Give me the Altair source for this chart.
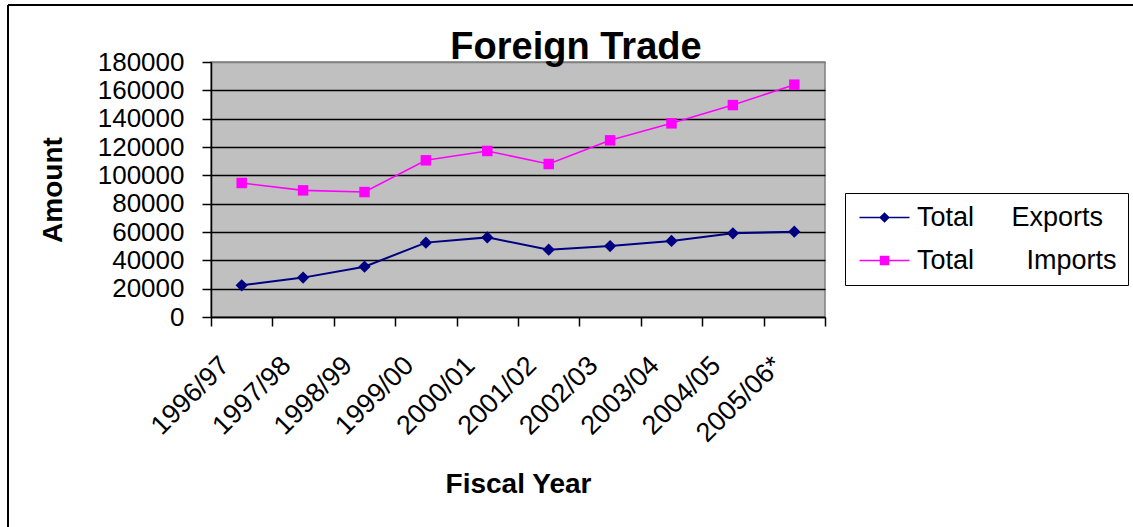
import altair as alt
import pandas as pd

# ---------------- data ----------------
years = ["1996/97", "1997/98", "1998/99", "1999/00", "2000/01",
         "2001/02", "2002/03", "2003/04", "2004/05", "2005/06*"]
exports = [22400, 27800, 35500, 52500, 56200, 47500, 50100, 53700, 59100, 60200]
imports = [94600, 89400, 88200, 110600, 117200, 108000, 124700, 136700, 149600, 164000]
series_names = ["Total" + "\u00a0" * 5 + "Exports", "Total" + "\u00a0" * 7 + "Imports"]
series_colors = ["#000080", "#FF00FF"]
y_ticks = [0, 20000, 40000, 60000, 80000, 100000, 120000, 140000, 160000, 180000]
chart_title = ["Foreign Trade"]

df = pd.DataFrame({
    "year": years * 2,
    "value": exports + imports,
    "series": [series_names[0]] * len(years) + [series_names[1]] * len(years),
})

FONT = "Liberation Sans"

x_enc = alt.X(
    "year:N", sort=years, bandPosition=0.5,
    scale=alt.Scale(type="band", paddingInner=0, paddingOuter=0),
    axis=alt.Axis(
        title="Fiscal Year", titleFont=FONT, titleFontSize=28, titleFontWeight="bold",
        titleColor="black", titleY=175, titleBaseline="alphabetic",
        labelFont=FONT, labelFontSize=27, labelColor="black",
        labelAngle=-45, labelAlign="right", labelBaseline="middle",
        labelPadding=35, labelOffset=-17, labelOverlap=False, labelBound=False,
        tickBand="extent", tickSize=9, tickColor="black", tickWidth=1.5,
        domainColor="black", domainWidth=1.5, grid=False,
    ),
)
y_enc = alt.Y(
    "value:Q",
    scale=alt.Scale(domain=[0, 180000], nice=False, zero=True),
    axis=alt.Axis(
        values=y_ticks, format="d",
        title="Amount", titleFont=FONT, titleFontSize=28, titleFontWeight="bold",
        titleColor="black", titleX=-158, titleY=127.5, titleBaseline="middle", titleAngle=270,
        labelFont=FONT, labelFontSize=26, labelColor="black", labelPadding=18,
        tickSize=9, tickColor="black", tickWidth=1.5,
        domainColor="black", domainWidth=1.5,
        grid=True, gridWidth=1.3, gridOpacity=1,
        gridColor={"condition": {"test": "datum.value >= 180000", "value": "#808080"}, "value": "black"},
    ),
)

base = alt.Chart(df).encode(x=x_enc, y=y_enc)

exp_line = base.transform_filter(alt.datum.series == series_names[0]).mark_line(
    color=series_colors[0], strokeWidth=2)
imp_line = base.transform_filter(alt.datum.series == series_names[1]).mark_line(
    color=series_colors[1], strokeWidth=1.6)
exp_pts = base.transform_filter(alt.datum.series == series_names[0]).mark_point(
    filled=True, shape="diamond", size=150, color=series_colors[0], opacity=1)
imp_pts = base.transform_filter(alt.datum.series == series_names[1]).mark_point(
    filled=True, shape="square", size=110, color=series_colors[1], opacity=1)

# legend symbols: a short line with the series marker in its middle
legend_paths = [
    "M-1,0L4,0M1.5,-0.43L1.93,0L1.5,0.43L1.07,0Z",
    "M-1,0L4,0M1.1,-0.4L1.9,-0.4L1.9,0.4L1.1,0.4Z",
]
leg = alt.Legend(
    orient="none", legendX=634, legendY=131, title=None,
    labelFont=FONT, labelFontSize=27, labelColor="black", labelLimit=400, labelOffset=34,
    symbolSize=400, symbolStrokeWidth=1.5, symbolOpacity=1,
    strokeColor="black", fillColor="white", padding=11, rowPadding=15,
)
legend_layer = base.transform_filter("false").mark_point(opacity=1, strokeWidth=1.5).encode(
    fill=alt.Fill("series:N", scale=alt.Scale(domain=series_names, range=series_colors), legend=leg),
    stroke=alt.Stroke("series:N", scale=alt.Scale(domain=series_names, range=series_colors), legend=leg),
    shape=alt.Shape("series:N", scale=alt.Scale(domain=series_names, range=legend_paths), legend=leg),
)

one_row = alt.Data(values=[{"k": 0}])
border_top = alt.Chart(one_row).mark_rule(color="black", strokeWidth=2).encode(
    x=alt.value(-203), x2=alt.value(922), y=alt.value(-57))
border_left = alt.Chart(one_row).mark_rule(color="black", strokeWidth=2).encode(
    x=alt.value(-203), y=alt.value(-57), y2=alt.value(465))

title_layer = alt.Chart(alt.Data(values=[{"t": t} for t in chart_title])).mark_text(
    font=FONT, fontSize=38, fontWeight="bold", align="center", baseline="alphabetic", color="black"
).encode(x=alt.value(365), y=alt.value(-3.5), text="t:N")

chart = alt.layer(
    border_top, border_left, exp_line, imp_line, exp_pts, imp_pts, legend_layer, title_layer
).properties(
    width=614, height=255,
    autosize=alt.AutoSizeParams(type="none"),
    padding={"left": 211, "top": 62, "right": 308, "bottom": 210},
    background="white",
).configure_view(fill="#C0C0C0", stroke="#808080", strokeWidth=1.5)

chart.save("out.html", embed_options={"renderer": "svg", "actions": False})
